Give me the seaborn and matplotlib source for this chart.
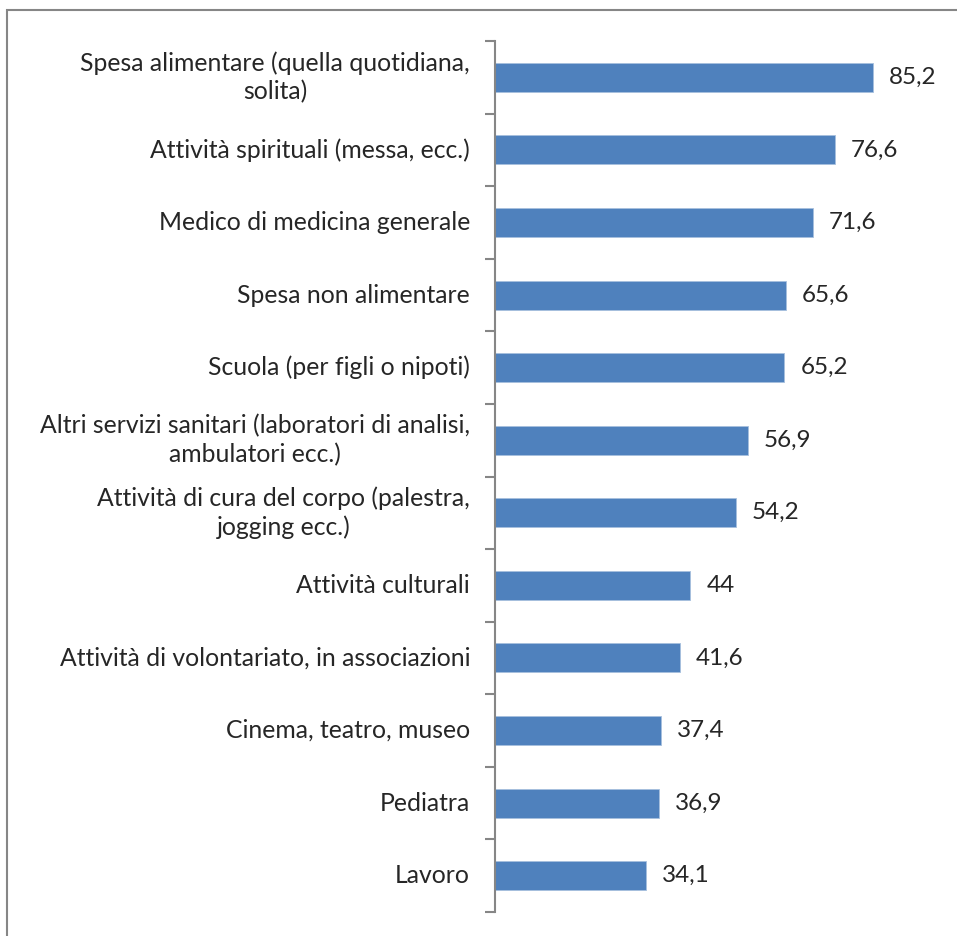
import matplotlib
matplotlib.use('Agg')
import matplotlib.pyplot as plt
import seaborn as sns
import pandas as pd
from matplotlib.patches import Rectangle

# ── Data ─────────────────────────────────────────────────────────────────────
categories = [
    "Spesa alimentare (quella quotidiana,\nsolita)",
    "Attività spirituali (messa, ecc.)",
    "Medico di medicina generale",
    "Spesa non alimentare",
    "Scuola (per figli o nipoti)",
    "Altri servizi sanitari (laboratori di analisi,\nambulatori ecc.)",
    "Attività di cura del corpo (palestra,\njogging ecc.)",
    "Attività culturali",
    "Attività di volontariato, in associazioni",
    "Cinema, teatro, museo",
    "Pediatra",
    "Lavoro",
]
values = [85.2, 76.6, 71.6, 65.6, 65.2, 56.9, 54.2, 44, 41.6, 37.4, 36.9, 34.1]
value_labels = ["85,2", "76,6", "71,6", "65,6", "65,2", "56,9", "54,2", "44", "41,6", "37,4", "36,9", "34,1"]

BAR_COLOR = "#4F81BD"
AXIS_GREY = "#868686"
FS = 17.8

sns.set_style("white")
plt.rcParams['font.family'] = ['Lato', 'DejaVu Sans']

df = pd.DataFrame({"cat": categories, "val": values})

W, H = 957, 936
fig = plt.figure(figsize=(W / 100, H / 100), dpi=100)
ax = fig.add_axes([495 / W, 1 - 912 / H, (939 - 495) / W, (912 - 41) / H])

sns.barplot(data=df, y="cat", x="val", orient="h", color=BAR_COLOR,
            width=0.4, saturation=1, ax=ax, edgecolor="#A7C0DE", linewidth=0.6)

ax.set_xlim(0, 100)
ax.set_ylim(len(categories) - 0.5, -0.5)
ax.set_xlabel("")
ax.set_ylabel("")
ax.set_xticks([])

for s in ["top", "right", "bottom"]:
    ax.spines[s].set_visible(False)
ax.spines["left"].set_color(AXIS_GREY)
ax.spines["left"].set_linewidth(1.5)

# category labels drawn as text so wrapped lines can be centred like Excel
ax.set_yticks(range(len(categories)))
ax.set_yticklabels([])
ax.tick_params(axis="y", which="major", left=False, length=0)
ax.set_yticks([i - 0.5 for i in range(len(categories) + 1)], minor=True)
ax.tick_params(axis="y", which="minor", left=True, length=7, width=1.5, color=AXIS_GREY)

for i, cat in enumerate(categories):
    ax.annotate(cat, (0, i), xytext=(-18, 0), textcoords="offset points",
                ha="right", va="center", multialignment="center",
                linespacing=1.3, fontsize=FS, annotation_clip=False)

for i, (v, lab) in enumerate(zip(values, value_labels)):
    ax.annotate(lab, (v, i), xytext=(11.5, 0), textcoords="offset points",
                va="center", ha="left", fontsize=17.5)

# outer chart border (cropped at right/bottom)
fig.patches.append(Rectangle((7 / W, -0.1), 1.2, 1 - 10 / H + 0.1,
                             transform=fig.transFigure, fill=False,
                             edgecolor=AXIS_GREY, linewidth=1.5))

fig.savefig("out.png", dpi=100)
